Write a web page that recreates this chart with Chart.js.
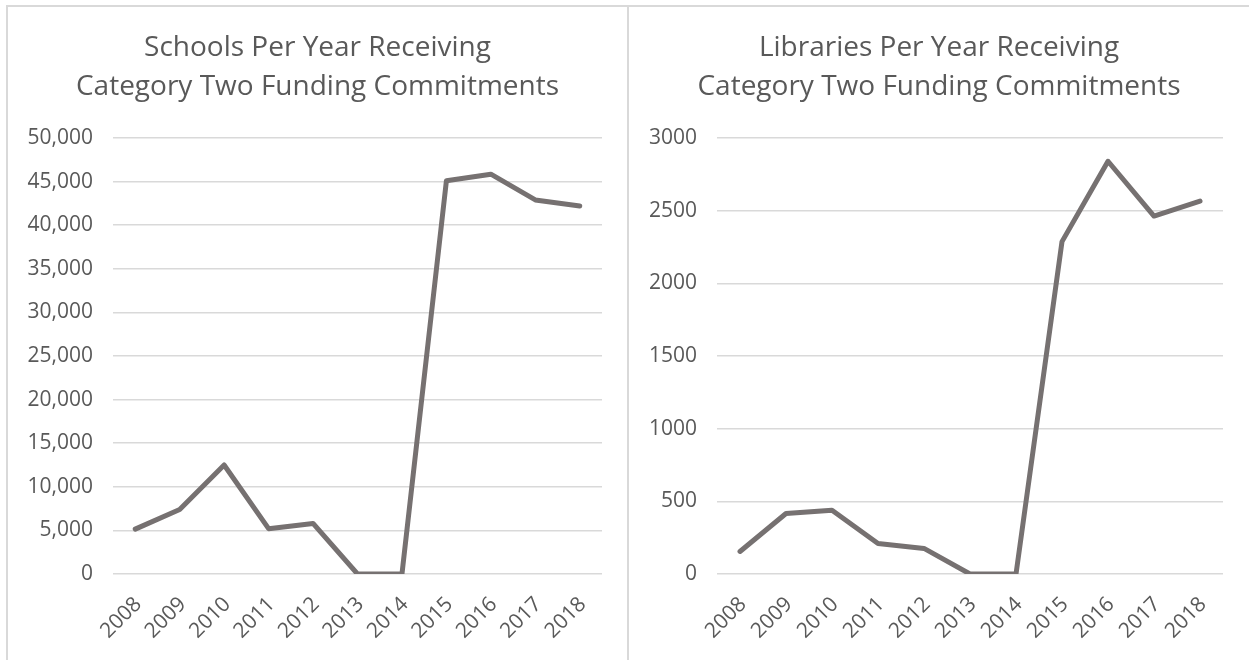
<!DOCTYPE html>
<html>
<head>
<meta charset="utf-8">
<script src="https://cdn.jsdelivr.net/npm/chart.js@4"></script>
<style>
  html, body { margin: 0; padding: 0; background: #fff; width: 1249px; height: 660px; overflow: hidden; }
  .bd { position: absolute; background: #d9d9d9; }
  .wrap { position: absolute; }
</style>
</head>
<body>
<div class="bd" style="left:6px;top:5px;width:1243px;height:2px;"></div>
<div class="bd" style="left:6px;top:5px;width:2px;height:655px;"></div>
<div class="bd" style="left:627px;top:5px;width:2px;height:655px;"></div>
<div class="wrap" style="left:8px;top:7px;width:619px;height:653px;"><canvas id="c1" width="619" height="653"></canvas></div>
<div class="wrap" style="left:629px;top:7px;width:620px;height:653px;"><canvas id="c2" width="620" height="653"></canvas></div>
<script>
const years = ['2008','2009','2010','2011','2012','2013','2014','2015','2016','2017','2018'];
const schools = [5150, 7400, 12500, 5200, 5800, 0, 0, 45100, 45850, 42900, 42200];
const libraries = [155, 416, 439, 210, 176, 0, 0, 2287, 2840, 2463, 2566];
const schoolsTitle = ['Schools Per Year Receiving', 'Category Two Funding Commitments'];
const librariesTitle = ['Libraries Per Year Receiving', 'Category Two Funding Commitments'];
const schoolsAxis = { max: 50000, step: 5000 };
const librariesAxis = { max: 3000, step: 500 };

const FONT = "'Open Sans', sans-serif";
const TEXT = '#595959';
const LINE = '#767171';
const GRID = '#d9d9d9';

function makeChart(id, labels, values, title, axis, yWidth, padRight, useComma) {
  return new Chart(document.getElementById(id), {
    type: 'line',
    data: {
      labels: labels,
      datasets: [{
        data: values,
        borderColor: LINE,
        backgroundColor: LINE,
        borderWidth: 5,
        pointRadius: 0,
        pointHoverRadius: 0,
        tension: 0,
        borderCapStyle: 'round',
        borderJoinStyle: 'round',
        fill: false
      }]
    },
    options: {
      responsive: false,
      animation: false,
      events: [],
      layout: { padding: 0 },
      plugins: {
        legend: { display: false },
        tooltip: { enabled: false },
        title: {
          display: true,
          text: title,
          color: TEXT,
          font: { family: FONT, size: 28, weight: 'normal', lineHeight: 1.393 },
          padding: { top: 21.5, bottom: 31.5 }
        }
      },
      scales: {
        x: {
          offset: true,
          grid: { display: false, drawTicks: false },
          border: { display: false },
          ticks: {
            color: TEXT,
            font: { family: FONT, size: 21 },
            minRotation: 45,
            maxRotation: 45,
            padding: 18,
            labelOffset: 3,
            autoSkip: false
          },
          afterFit: s => { s.height = 86; }
        },
        y: {
          min: 0,
          max: axis.max,
          grid: { color: GRID, lineWidth: 1.5, drawTicks: false },
          border: { display: false },
          ticks: {
            stepSize: axis.step,
            color: TEXT,
            font: { family: FONT, size: 21 },
            padding: 20,
            callback: v => useComma ? v.toLocaleString('en-US') : String(v)
          },
          afterFit: s => { s.width = yWidth; }
        },
        spacer: {
          type: 'linear',
          position: 'right',
          display: true,
          grid: { display: false, drawTicks: false },
          border: { display: false },
          ticks: { display: false },
          afterFit: s => { s.width = padRight; }
        }
      }
    }
  });
}

makeChart('c1', years, schools, schoolsTitle, schoolsAxis, 105, 25, true);
makeChart('c2', years, libraries, librariesTitle, librariesAxis, 88, 26, false);
</script>
</body>
</html>
